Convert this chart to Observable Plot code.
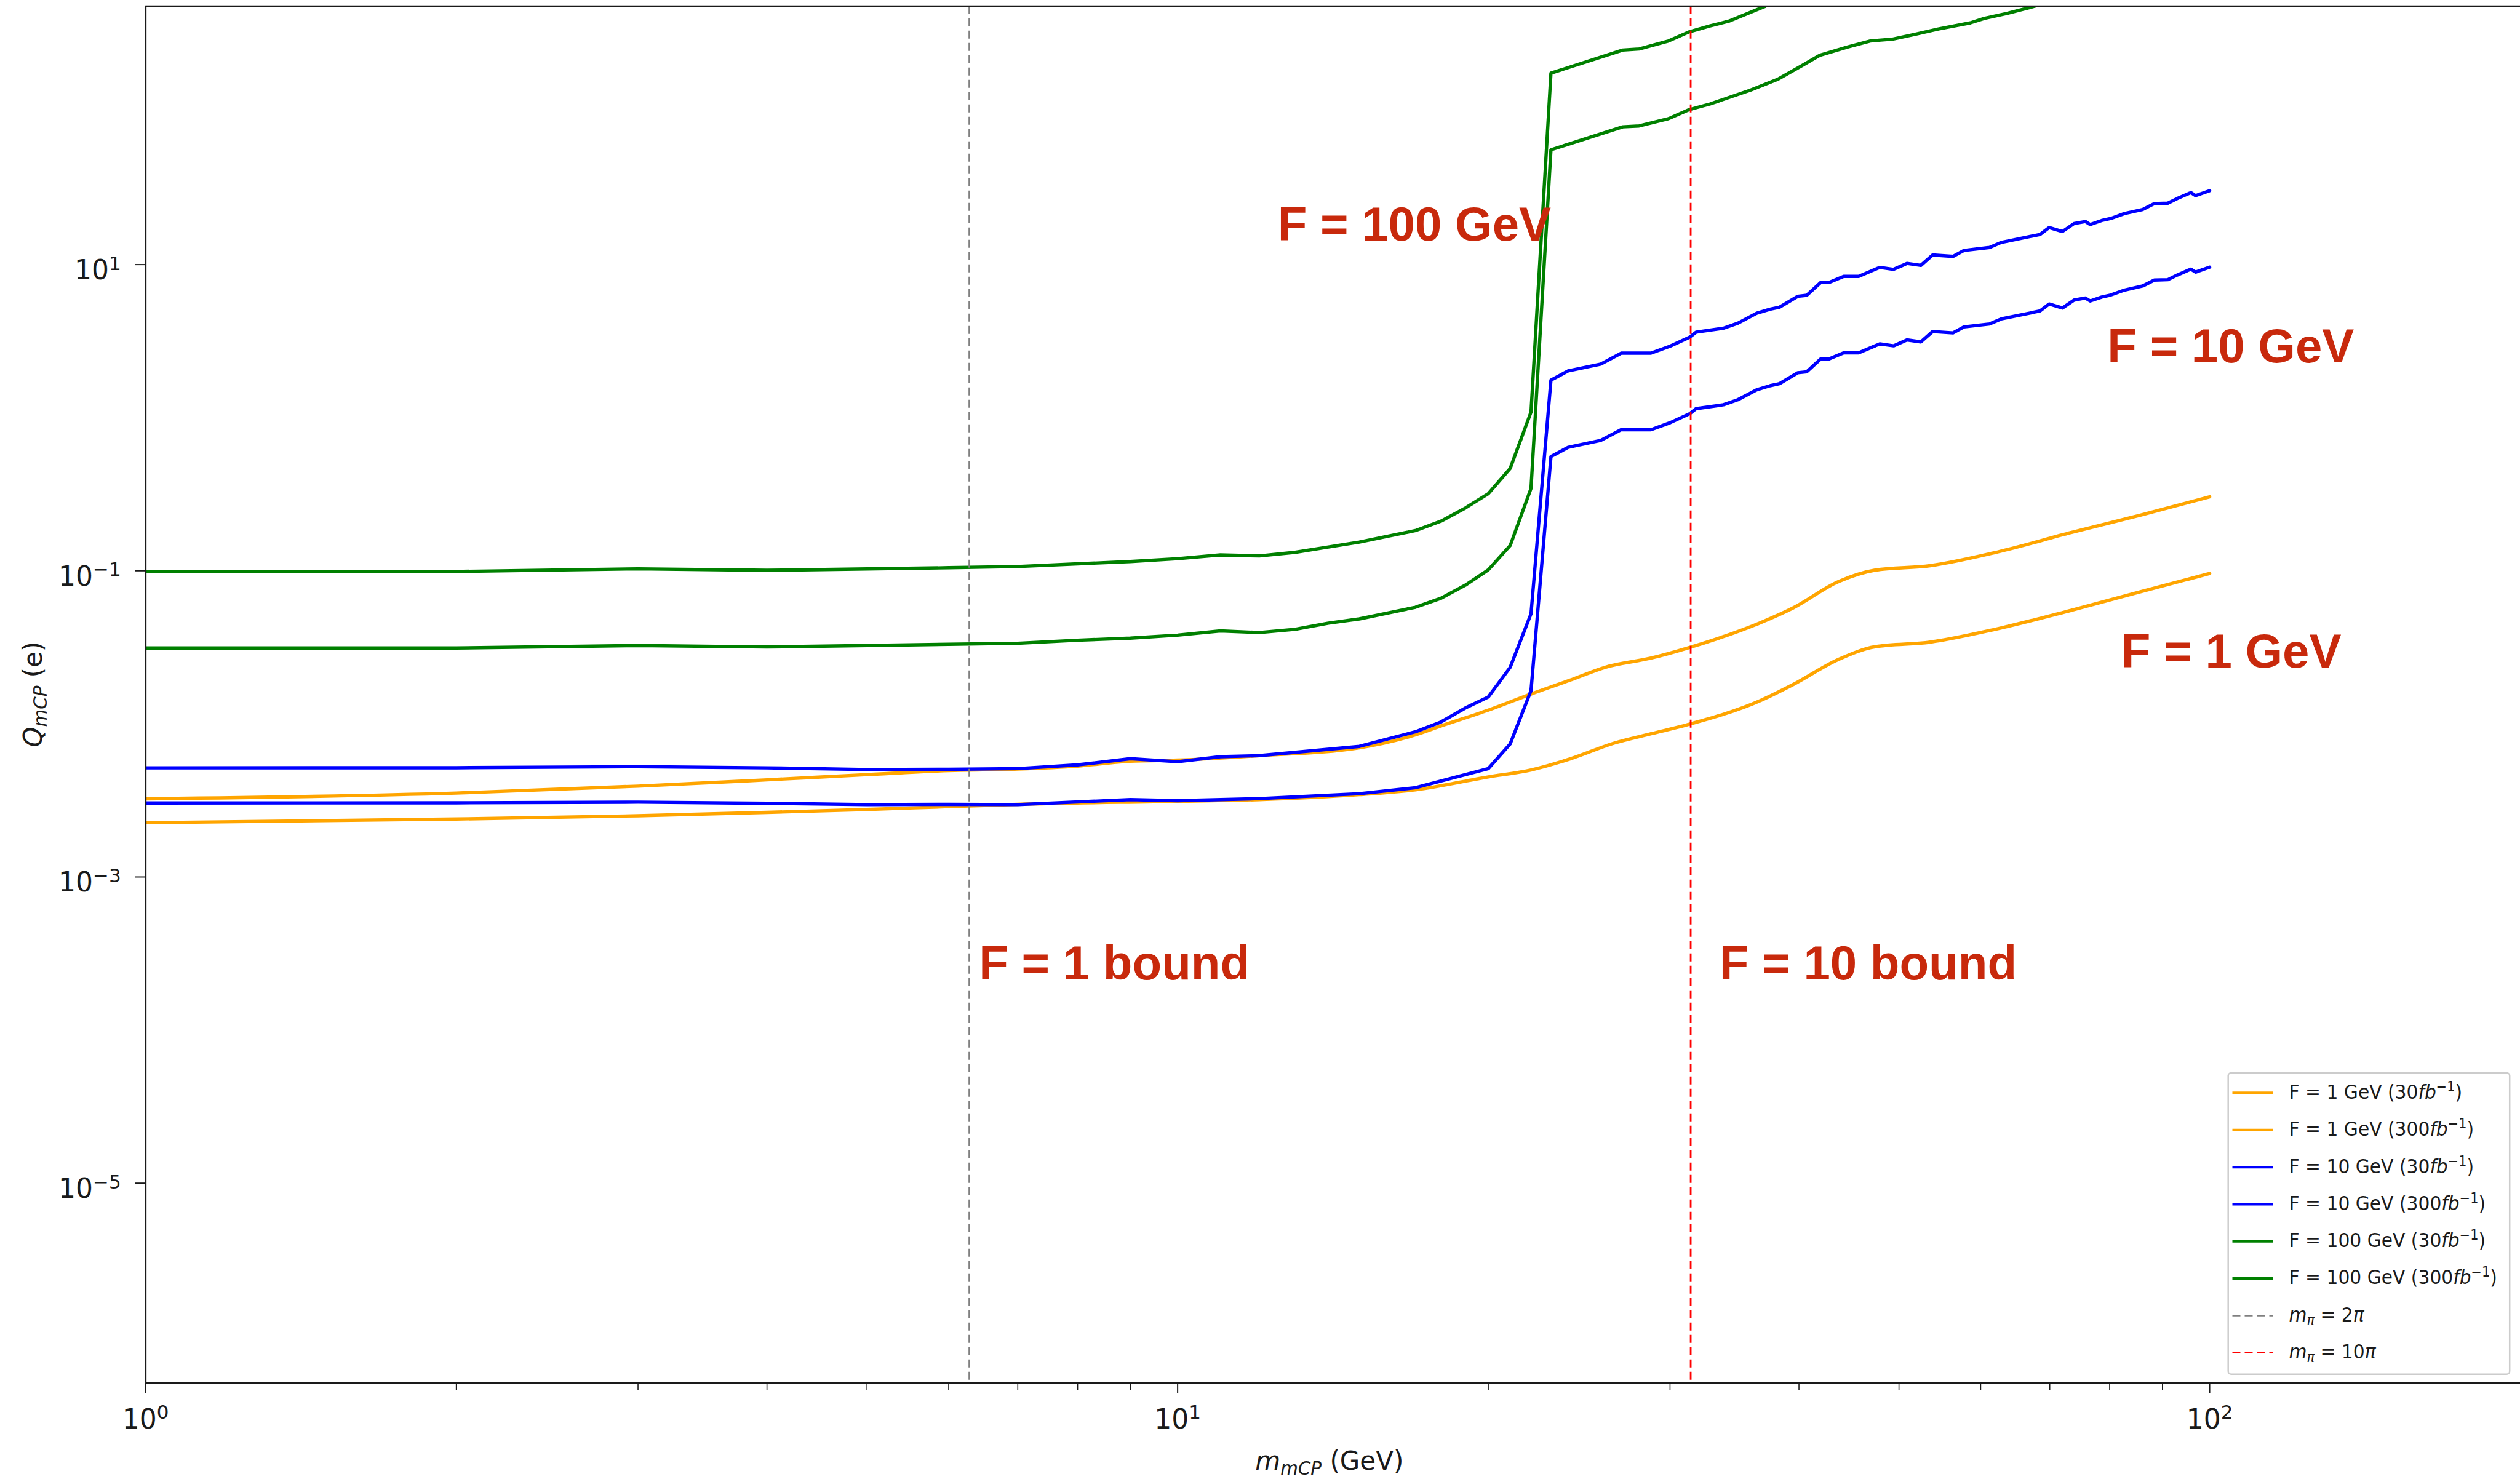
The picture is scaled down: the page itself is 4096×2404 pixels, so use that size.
<!DOCTYPE html>
<html><head><meta charset="utf-8">
<script src="https://cdn.jsdelivr.net/npm/d3@7"></script>
<script src="https://cdn.jsdelivr.net/npm/@observablehq/plot@0.6"></script>
<style>
html,body{margin:0;padding:0;background:#fff;overflow:hidden;}
#chart svg{display:block;max-width:none !important;}
</style></head><body>
<div id="chart"></div>
<script>
// ---------------- data ----------------
const massOrange30 = [1,2,3,4,5,6,7,8,9,10,12,15,17,18,20,22,24,26,28.75,31.2,36.7,39.5,43.7,47.4,53.6,61.8,73.5,85.7,100];
const qOrange30    = [0.00324,0.00353,0.00392,0.00431,0.00466,0.00495,0.00507,0.0053,0.0057,0.0058,0.0062,0.00698,0.00848,0.0097,0.0123,0.01567,0.0193,0.0235,0.0269,0.0313,0.0458,0.0573,0.0851,0.101,0.108,0.131,0.178,0.2306,0.304];

const massOrange300 = [1,2,3,4,5,6,7,10,12,15,17,20,22,24,26.5,28.75,31.2,36.7,39.5,43.7,47.4,53.6,61.8,73.5,85.7,100];
const qOrange300    = [0.00226,0.00239,0.00251,0.00264,0.00276,0.00288,0.00298,0.00312,0.0032,0.00345,0.00371,0.0045,0.005,0.0059,0.0075,0.00862,0.00989,0.0142,0.0181,0.0264,0.0319,0.0342,0.0413,0.0553,0.0729,0.096];

const massBlue30 = [1,2,3,4,5,6,7,8,9,10,11,12,15,17,18,19,20,21,22,23,23.9,25.7,26.9,28.75,30,31.35,31.8,33.8,34.9,36.4,37.5,38.3,39.9,40.7,42,42.8,44.2,45.7,47.9,49.4,50.9,52.5,53.9,56.4,57.8,61.2,62.8,68.5,69.9,72,73.9,75.8,76.6,78.6,80.2,82.7,86.1,88.4,91.1,93,95.9,96.9,100];
const qBlue30    = [0.00516,0.00517,0.00525,0.00516,0.00503,0.00505,0.0051,0.0054,0.00592,0.00566,0.0061,0.0062,0.00713,0.00888,0.0103,0.0127,0.015,0.0234,0.0524,1.76,2.02,2.24,2.64,2.64,2.93,3.36,3.62,3.84,4.14,4.81,5.11,5.27,6.21,6.30,7.66,7.66,8.38,8.38,9.59,9.31,10.18,9.88,11.55,11.31,12.37,12.94,13.95,15.73,17.47,16.44,18.54,19.11,18.27,19.4,20.0,21.54,22.88,25.03,25.18,26.98,29.52,28.21,30.4];

const massBlue300 = [1,2,3,4,5,6,7,9,10,12,15,17,20,21,22,23,23.9,25.7,26.9,28.75,30,31.35,31.8,33.8,34.9,36.4,37.5,38.3,39.9,40.7,42,42.8,44.2,45.7,47.9,49.4,50.9,52.5,53.9,56.4,57.8,61.2,62.8,68.5,69.9,72,73.9,75.8,76.6,78.6,80.2,82.7,86.1,88.4,91.1,93,95.9,96.9,100];
const qBlue300    = [0.00304,0.00305,0.00308,0.00303,0.00297,0.00298,0.00297,0.0032,0.00315,0.00325,0.0035,0.00383,0.0051,0.0074,0.0165,0.557,0.64,0.71,0.835,0.835,0.927,1.063,1.146,1.215,1.31,1.522,1.617,1.668,1.965,1.994,2.424,2.424,2.652,2.652,3.035,2.946,3.222,3.127,3.655,3.579,3.915,4.095,4.415,4.978,5.528,5.203,5.867,6.047,5.782,6.139,6.329,6.816,7.241,7.921,7.968,8.538,9.342,8.927,9.62];

const massGreen30 = [1,2,3,4,5,6,7,8,9,10,11,12,13,14,15,17,18,19,20,21,22,23,27,28,29.9,31.3,32.8,34.2,37.1,40,45];
const qGreen30    = [0.099,0.099,0.103,0.1007,0.1028,0.1047,0.1066,0.111,0.115,0.12,0.127,0.125,0.132,0.143,0.154,0.183,0.211,0.257,0.319,0.466,1.09,178,252,256,289,331,362,389,487,620,840];

const massGreen300 = [1,2,3,4,5,6,7,8,9,10,11,12,13,14,15,17,18,19,20,21,22,23,27,28,29.9,31.3,32.8,35.9,38.2,40.2,41.9,44.6,46.9,49.3,51.8,54.6,58.6,60.5,63.6,67,70];
const qGreen300    = [0.0313,0.0313,0.0325,0.0318,0.0325,0.0331,0.0336,0.0352,0.0363,0.038,0.0405,0.0395,0.0415,0.0455,0.0485,0.0578,0.0662,0.0805,0.1014,0.1461,0.3454,56.2,79.4,80.5,89.8,102.8,112,138,163,198,233,264,289,297,319,346,379,406,437,478,520];

// vertical reference lines: m_pi = 2 pi, m_pi = 10 pi
const mPiGray = [6.283];
const mPiRed  = [31.416];

// axis ticks
const xTicks = [1, 10, 100];
const xTickExp = ["0", "1", "2"];
const xMinorTicks = [2,3,4,5,6,7,8,9,20,30,40,50,60,70,80,90];
const yTicks = [10, 0.1, 0.001, 0.00001];
const yTickExp = ["1", "\u22121", "\u22123", "\u22125"];

// annotations
const annotText = ["F = 100 GeV", "F = 10 GeV", "F = 1 GeV", "F = 1 bound", "F = 10 bound"];
const annotMass = [12.5, 79.6, 82.1, 6.42, 33.5];
const annotQ    = [14.4, 2.29, 0.0234, 2.15e-4, 2.15e-4];

// legend
const legendF     = ["1", "1", "10", "10", "100", "100"];
const legendLumi  = ["30", "300", "30", "300", "30", "300"];
const legendPi    = ["2", "10"];

// ---------------- styles ----------------
const cOrange = "#ffa500", cBlue = "#0000ff", cGreen = "#008000";
const cGray = "#808080", cRed = "#ff0000", cText = "#1a1a1a", cAnnot = "#c8290c";
const legendColors = [cOrange, cOrange, cBlue, cBlue, cGreen, cGreen, cGray, cRed];

const W = 4096, H = 2404;
const mL = 236.2, mR = 0, mT = 9.7, mB = 156.7;
const FW = W - mL - mR, FH = H - mT - mB;
const xDomain = [1, 200];
const yDomain = [4.96e-7, 486.8];

const rows = (ms, qs) => ms.map((m, i) => ({m, q: qs[i]}));
const lw = 5.4;
const lineOpts = (c, curve = "linear") => ({x: "m", y: "q", stroke: c, strokeWidth: lw, clip: true, curve});
const dash = "13,7";

const chart = Plot.plot({
  width: W, height: H,
  marginLeft: mL, marginRight: mR, marginTop: mT, marginBottom: mB,
  x: {type: "log", domain: xDomain, axis: null},
  y: {type: "log", domain: yDomain, axis: null},
  style: {fontFamily: "'DejaVu Sans', sans-serif", background: "#ffffff", overflow: "visible"},
  marks: [
    Plot.line(rows(massOrange30, qOrange30), lineOpts(cOrange, "monotone-x")),
    Plot.line(rows(massOrange300, qOrange300), lineOpts(cOrange, "monotone-x")),
    Plot.line(rows(massBlue30, qBlue30), lineOpts(cBlue)),
    Plot.line(rows(massBlue300, qBlue300), lineOpts(cBlue)),
    Plot.line(rows(massGreen30, qGreen30), lineOpts(cGreen)),
    Plot.line(rows(massGreen300, qGreen300), lineOpts(cGreen)),
    Plot.ruleX(mPiGray, {stroke: cGray, strokeWidth: 2.8, strokeDasharray: dash}),
    Plot.ruleX(mPiRed, {stroke: cRed, strokeWidth: 2.8, strokeDasharray: dash}),
    // spines
    Plot.ruleX([xDomain[0]], {stroke: cText, strokeWidth: 2.9}),
    Plot.ruleY(yDomain, {stroke: cText, strokeWidth: 2.9}),
    // ticks
    Plot.tickX(xTicks, {x: d => d, insetTop: FH - 17.5, dy: 17.5, stroke: cText, strokeWidth: 2}),
    Plot.tickX(xMinorTicks, {x: d => d, insetTop: FH - 11.7, dy: 11.7, stroke: cText, strokeWidth: 1.6}),
    Plot.tickY(yTicks, {y: d => d, insetRight: FW - 17, dx: -17, stroke: cText, strokeWidth: 2}),
    // tick labels
    Plot.text(xTicks, {x: d => d, frameAnchor: "bottom", dy: 74, lineAnchor: "bottom", textAnchor: "middle",
      text: (d, i) => "10^" + xTickExp[i], fontSize: 44, fill: cText}),
    Plot.text(yTicks, {y: d => d, frameAnchor: "left", dx: -40, dy: 24, lineAnchor: "bottom", textAnchor: "end",
      text: (d, i) => "10^" + yTickExp[i], fontSize: 44, fill: cText}),
    // annotations
    Plot.text(annotText, {x: (d, i) => annotMass[i], y: (d, i) => annotQ[i], text: d => d,
      textAnchor: "start", lineAnchor: "bottom", fontSize: 78, fontWeight: "bold",
      fontFamily: "'Liberation Sans', Arial, Helvetica, sans-serif", fill: cAnnot})
  ]
});

document.getElementById("chart").appendChild(chart);

function squeeze(el, s) {
  const t = el.getAttribute("transform") || "";
  const x = parseFloat(el.getAttribute("x")) || 0;
  el.setAttribute("transform", `${t} translate(${x},0) scale(${s},1) translate(${-x},0)`);
}

const svg = d3.select(chart);

// superscript exponents on tick labels
svg.selectAll("text").each(function() {
  const m = /^10\^(.+)$/.exec(this.textContent);
  if (!m) return;
  this.textContent = "";
  const sel = d3.select(this);
  sel.append("tspan").text("10");
  sel.append("tspan").attr("font-size", 31).attr("dy", -15.5).text(m[1]);
});

// axis labels
const yl = svg.append("text")
  .attr("transform", "translate(68,1128.5) rotate(-90)")
  .attr("text-anchor", "middle").attr("font-size", 42).attr("fill", cText)
  .attr("font-family", "'DejaVu Sans', sans-serif");
yl.append("tspan").attr("font-style", "italic").text("Q");
yl.append("tspan").attr("font-style", "italic").attr("font-size", 29.4).attr("dy", 8).text("mCP");
yl.append("tspan").attr("dy", -8).text(" (e)");

const xl = svg.append("text")
  .attr("x", 2160.8).attr("y", 2389)
  .attr("text-anchor", "middle").attr("font-size", 42).attr("fill", cText)
  .attr("font-family", "'DejaVu Sans', sans-serif");
xl.append("tspan").attr("font-style", "italic").text("m");
xl.append("tspan").attr("font-style", "italic").attr("font-size", 29.4).attr("dy", 8).text("mCP");
xl.append("tspan").attr("dy", -8).text(" (GeV)");

// legend
const lg = svg.append("g").attr("font-family", "'DejaVu Sans', sans-serif").attr("font-size", 32)
  .attr("text-anchor", "start");
lg.append("rect").attr("x", 3621.7).attr("y", 1743.8).attr("width", 457.5).attr("height", 490)
  .attr("rx", 5).attr("fill", "#ffffff").attr("fill-opacity", 0.8)
  .attr("stroke", "#cccccc").attr("stroke-width", 2.5);
const nLeg = legendF.length + legendPi.length;
for (let i = 0; i < nLeg; i++) {
  const y = 1776.5 + i * 60.3;
  const dashed = i >= legendF.length;
  lg.append("line").attr("x1", 3628.5).attr("x2", 3694.3).attr("y1", y).attr("y2", y)
    .attr("stroke", legendColors[i]).attr("stroke-width", dashed ? 2.8 : 4.3)
    .attr("stroke-dasharray", dashed ? dash : null);
  const t = lg.append("text").attr("x", 3720.5).attr("y", y + 9.5).attr("fill", cText)
    .attr("text-anchor", "start");
  if (!dashed) {
    t.append("tspan").text(`F = ${legendF[i]} GeV (${legendLumi[i]}`);
    t.append("tspan").attr("font-style", "italic").text("fb");
    t.append("tspan").attr("font-size", 22.4).attr("dy", -12).text("\u22121");
    t.append("tspan").attr("dy", 12).text(")");
  } else {
    const k = i - legendF.length;
    t.append("tspan").attr("font-style", "italic").text("m");
    t.append("tspan").attr("font-style", "italic").attr("font-size", 22.4).attr("dy", 6).text("\u03c0");
    t.append("tspan").attr("dy", -6).text(` = ${legendPi[k]}`);
    t.append("tspan").attr("font-style", "italic").text("\u03c0");
  }
  squeeze(t.node(), 0.93);
}
</script></body></html>
